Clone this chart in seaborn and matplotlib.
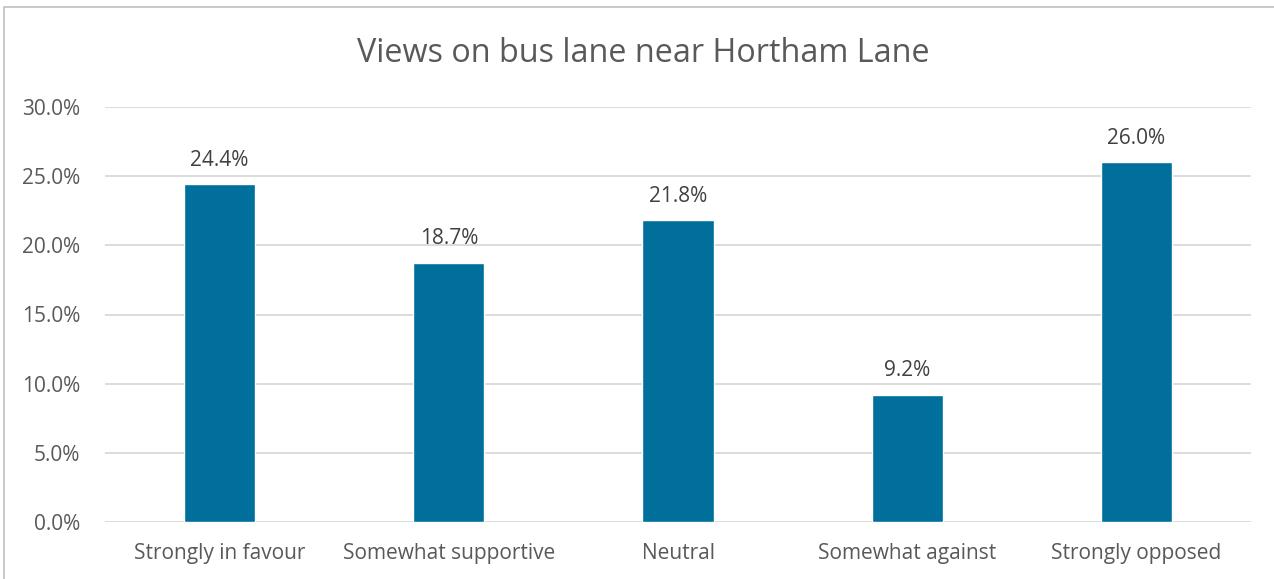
import matplotlib
matplotlib.use("Agg")
import matplotlib.pyplot as plt
import matplotlib.patches as mpatches
import seaborn as sns
import pandas as pd

# Survey responses
categories = ["Strongly in favour", "Somewhat supportive", "Neutral",
              "Somewhat against", "Strongly opposed"]
shares = [24.4, 18.7, 21.8, 9.2, 26.0]
y_ticks = [0.0, 5.0, 10.0, 15.0, 20.0, 25.0, 30.0]

df = pd.DataFrame({"view": categories, "share": shares})

sns.set_theme(style="white")
plt.rcParams["font.family"] = ["Open Sans", "DejaVu Sans"]

fig = plt.figure(figsize=(12.74, 5.79), dpi=100)
ax = fig.add_axes([105 / 1274, 1 - 522 / 579, 1146 / 1274, 415 / 579])

bar_color = "#006f9c"
sns.barplot(data=df, x="view", y="share", color=bar_color, width=0.31,
            saturation=1, ax=ax, zorder=3)

for i, v in enumerate(shares):
    ax.text(i, v + 1.0, f"{v:.1f}%", ha="center", va="bottom",
            fontsize=15, color="#404040")

ax.set_xlim(-0.5, len(categories) - 0.5)
ax.set_ylim(0, 30)
ax.set_yticks(y_ticks)
ax.set_yticklabels([f"{t:.1f}%" for t in y_ticks], fontsize=15, color="#595959")
ax.tick_params(axis="x", labelsize=15, colors="#595959", pad=15, length=0)
ax.tick_params(axis="y", pad=18, length=0)
ax.set_xlabel("")
ax.set_ylabel("")
ax.grid(axis="y", color="#d9d9d9", linewidth=1.3, zorder=0)
for s in ax.spines.values():
    s.set_visible(False)

fig.text(643 / 1274, 1 - 53 / 579, "Views on bus lane near Hortham Lane",
         ha="center", va="center", fontsize=23.3, color="#595959")

# outer chart frame
frame = mpatches.Rectangle((4 / 1274, -0.05), 1.2, 1 - 7 / 579 + 0.05,
                           transform=fig.transFigure, fill=False,
                           edgecolor="#bfbfbf", linewidth=1.2)
fig.patches.append(frame)

fig.savefig("out.png", dpi=100)
